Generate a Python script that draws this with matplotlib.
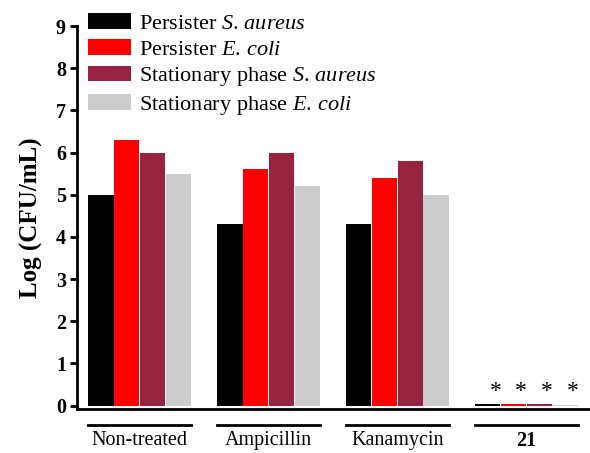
import numpy as np
import matplotlib
matplotlib.use('Agg')
from matplotlib import pyplot as plt
from matplotlib.transforms import blended_transform_factory

plt.rcParams['font.family'] = ['Liberation Serif', 'DejaVu Serif']
plt.rcParams['mathtext.fontset'] = 'custom'
plt.rcParams['mathtext.rm'] = 'Liberation Serif'
plt.rcParams['mathtext.it'] = 'Liberation Serif:italic'

# data
groups = ['Non-treated', 'Ampicillin', 'Kanamycin', '21']
series = [r'Persister $\mathit{S.\,aureus}$', r'Persister $\mathit{E.\,coli}$',
          r'Stationary phase $\mathit{S.\,aureus}$', r'Stationary phase $\mathit{E.\,coli}$']
persister_sa = [5.0, 4.3, 4.3, 0.05]
persister_ec = [6.3, 5.6, 5.4, 0.03]
stationary_sa = [6.0, 6.0, 5.8, 0.03]
stationary_ec = [5.5, 5.2, 5.0, 0.02]
colors = ['#000000', '#ff0000', '#97233f', '#cccccc']
yticks = [0, 1, 2, 3, 4, 5, 6, 7, 8, 9]

values = [persister_sa, persister_ec, stationary_sa, stationary_ec]

fig = plt.figure(figsize=(5.9, 4.53), dpi=100)
ax = fig.add_axes([77 / 590, 44 / 453, 1 - 77 / 590, 383 / 453])

group_step = 5
for i, (vals, c, lab) in enumerate(zip(values, colors, series)):
    x = np.arange(len(groups)) * group_step + i
    ax.bar(x, vals, width=0.98, color=c, label=lab, edgecolor='none', bottom=0)

# asterisks over the treated (21) group
for i in range(4):
    xs = (len(groups) - 1) * group_step + i + 0.3
    ax.text(xs, 0.33, '*', ha='center', va='center', fontsize=17)

ax.set_xlim(-0.93, 18.97)
ax.set_ylim(-0.08, 9)
ax.set_yticks(yticks)
ax.set_yticklabels([str(t) for t in yticks], fontsize=14.5, fontweight='bold')
ax.set_xticks([])
ax.set_ylabel('Log (CFU/mL)', fontsize=18, fontweight='bold', labelpad=9)

for s in ['top', 'right']:
    ax.spines[s].set_visible(False)
for s in ['left', 'bottom']:
    ax.spines[s].set_linewidth(2)
ax.spines['left'].set_bounds(-0.08, 9)
ax.tick_params(axis='y', direction='out', length=5, width=2, pad=3)

# group underlines and labels below the axis
trans = blended_transform_factory(ax.transData, ax.transAxes)
for g, name in enumerate(groups):
    left = g * group_step - 0.5
    right = g * group_step + 3.5
    ax.plot([left, right], [-0.042, -0.042], color='black', lw=2,
            transform=trans, clip_on=False)
    ax.text((left + right) / 2, -0.083, name, transform=trans, ha='center',
            va='center', fontsize=14.5,
            fontweight='bold' if name == '21' else 'normal')

ax.legend(loc='upper left', bbox_to_anchor=(88 / 590, 1 - 13 / 453),
          bbox_transform=fig.transFigure, frameon=False, fontsize=16,
          handlelength=1.95, handleheight=0.7, handletextpad=0.35,
          labelspacing=0.25, borderaxespad=0, borderpad=0)

plt.savefig('out.png', dpi=100)
